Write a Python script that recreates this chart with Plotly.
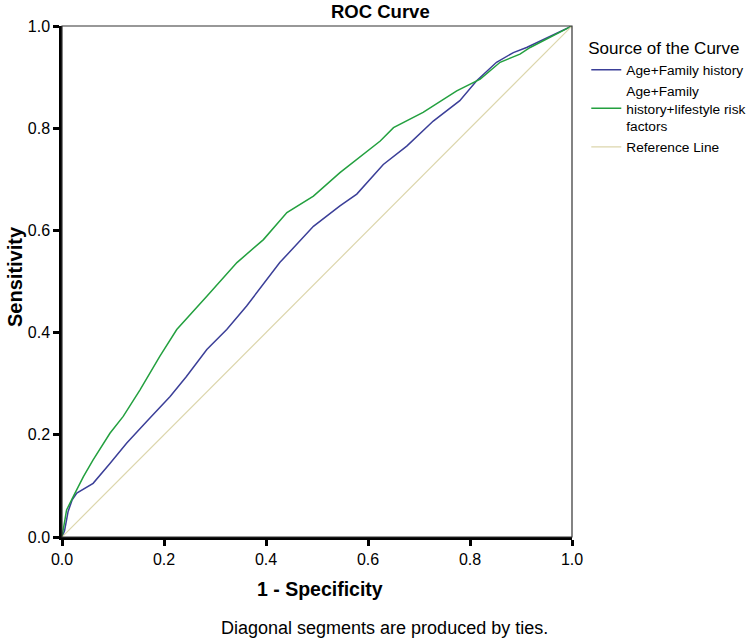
import plotly.graph_objects as go

# Age+Family history
fpr_a = [0.0, 0.005, 0.012, 0.02, 0.029, 0.061, 0.094, 0.127, 0.166, 0.212, 0.244, 0.284,
         0.323, 0.362, 0.427, 0.493, 0.545, 0.578, 0.630, 0.676, 0.728, 0.780, 0.813,
         0.852, 0.885, 0.911, 1.0]
tpr_a = [0.0, 0.012, 0.05, 0.073, 0.086, 0.105, 0.144, 0.184, 0.226, 0.275, 0.314, 0.367,
         0.406, 0.452, 0.537, 0.608, 0.648, 0.671, 0.729, 0.765, 0.814, 0.854, 0.893,
         0.929, 0.948, 0.958, 1.0]

# Age+Family history+lifestyle risk factors
fpr_b = [0.0, 0.003, 0.009, 0.022, 0.042, 0.061, 0.094, 0.120, 0.153, 0.192, 0.225, 0.284,
         0.343, 0.395, 0.441, 0.493, 0.545, 0.624, 0.650, 0.708, 0.774, 0.820, 0.859,
         0.898, 0.918, 1.0]
tpr_b = [0.0, 0.02, 0.053, 0.079, 0.118, 0.151, 0.203, 0.236, 0.288, 0.354, 0.406, 0.471,
         0.537, 0.582, 0.635, 0.667, 0.713, 0.775, 0.801, 0.831, 0.873, 0.896, 0.929,
         0.945, 0.958, 1.0]

ref_x = [0.0, 1.0]
ref_y = [0.0, 1.0]

tick_vals = [0.0, 0.2, 0.4, 0.6, 0.8, 1.0]
tick_text = ["0.0", "0.2", "0.4", "0.6", "0.8", "1.0"]

FONT = "Arial, Liberation Sans, sans-serif"

fig = go.Figure()
fig.add_trace(go.Scatter(x=fpr_a, y=tpr_a, mode="lines", name="Age+Family history",
                         line=dict(color="#3b3f98", width=1.5)))
fig.add_trace(go.Scatter(x=fpr_b, y=tpr_b, mode="lines",
                         name="Age+Family<br>history+lifestyle risk<br>factors",
                         line=dict(color="#23a03f", width=1.5)))
fig.add_trace(go.Scatter(x=ref_x, y=ref_y, mode="lines", name="Reference Line",
                         line=dict(color="#dcd6ac", width=1.2)))

axis_common = dict(range=[0, 1], tickvals=tick_vals, ticktext=tick_text,
                   showgrid=False, zeroline=False, showline=True, linecolor="black",
                   linewidth=2.5, ticks="outside", ticklen=6, tickwidth=2.5,
                   tickcolor="black", automargin=False,
                   tickfont=dict(family=FONT, size=16, color="black"))

fig.update_layout(
    width=750, height=640,
    margin=dict(l=62, r=178, t=26, b=103, autoexpand=False),
    paper_bgcolor="white", plot_bgcolor="white",
    font=dict(family=FONT, color="black"),
    xaxis=axis_common,
    yaxis=axis_common,
    showlegend=True,
    legend=dict(x=1.028, y=0.988, xanchor="left", yanchor="top",
                font=dict(family=FONT, size=13.7, color="black"),
                title=dict(text="Source of the Curve", font=dict(family=FONT, size=17)),
                tracegroupgap=0, itemwidth=30, bgcolor="rgba(0,0,0,0)"),
    shapes=[dict(type="rect", xref="paper", yref="paper", x0=0, y0=0, x1=1, y1=1,
                 line=dict(color="#333333", width=1.2))],
    annotations=[
        dict(text="<b>ROC Curve</b>", x=0.625, y=1.0, xref="paper", yref="paper",
             yshift=15, xanchor="center", yanchor="middle", showarrow=False,
             font=dict(family=FONT, size=18.5)),
        dict(text="<b>1 - Specificity</b>", x=0.506, y=-0.102, xref="paper", yref="paper",
             xanchor="center", yanchor="middle",
             showarrow=False, font=dict(family=FONT, size=19.5)),
        dict(text="<b>Sensitivity</b>", x=-0.092, y=0.509, xref="paper", yref="paper",
             xanchor="center", yanchor="middle",
             textangle=-90, showarrow=False, font=dict(family=FONT, size=20)),
        dict(text="Diagonal segments are produced by ties.", x=0.632, y=-0.178,
             xref="paper", yref="paper", xanchor="center", yanchor="middle",
             showarrow=False, font=dict(family=FONT, size=18)),
    ],
)

fig.write_html("out.html", config={"displayModeBar": False},
               post_script="document.body.style.margin='0px';document.body.style.overflow='hidden';")
